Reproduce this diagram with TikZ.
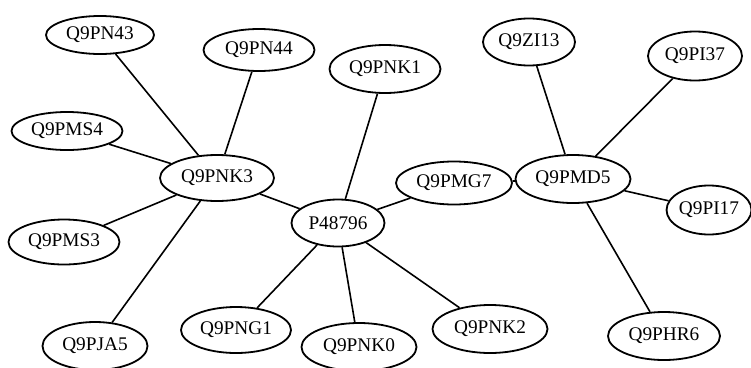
\documentclass[tikz,border=0pt]{standalone}
\usepackage{fontspec}
\setmainfont{Liberation Serif}
\usetikzlibrary{shapes.geometric}
\begin{document}
\begin{tikzpicture}[x=1pt,y=-1pt,
  prot/.style 2 args={draw, ellipse, line width=1.8pt, inner sep=0pt,
    minimum width=#1pt, minimum height=#2pt,
    font=\fontsize{19.3}{21}\selectfont},
  link/.style={line width=1.6pt}]
\useasboundingbox (0,0) rectangle (751,367);
% proteins
\node[prot={108}{38}] (n43)  at (100,35)  {Q9PN43};
\node[prot={111}{42}] (n44)  at (259,50)  {Q9PN44};
\node[prot={111}{38}] (ms4)  at (67,131)  {Q9PMS4};
\node[prot={114}{46}] (nk3)  at (217,178) {Q9PNK3};
\node[prot={111}{45}] (ms3)  at (64,242)  {Q9PMS3};
\node[prot={105}{48}] (ja5)  at (95,346)  {Q9PJA5};
\node[prot={111}{48}] (nk1)  at (385,69)  {Q9PNK1};
\node[prot={93}{47}]  (hub)  at (338,223) {P48796};
\node[prot={110}{46}] (ng1)  at (236,330) {Q9PNG1};
\node[prot={115}{48}] (nk0)  at (359,347) {Q9PNK0};
\node[prot={115}{48}] (nk2)  at (490,329) {Q9PNK2};
\node[prot={116}{43}] (mg7)  at (454,183) {Q9PMG7};
\node[prot={115}{48}] (md5)  at (573,179) {Q9PMD5};
\node[prot={92}{47}]  (zi13) at (529,42)  {Q9ZI13};
\node[prot={94}{49}]  (pi37) at (695,56)  {Q9PI37};
\node[prot={82}{49}]  (pi17) at (709,210) {Q9PI17};
\node[prot={112}{48}] (hr6)  at (664,336) {Q9PHR6};
% interactions
\foreach \a in {n43,n44,ms4,ms3,ja5,hub}
  \draw[link] (nk3) -- (\a);
\foreach \a in {nk1,ng1,nk0,nk2,mg7}
  \draw[link] (hub) -- (\a);
\foreach \a in {mg7,zi13,pi37,pi17,hr6}
  \draw[link] (md5) -- (\a);
\end{tikzpicture}
\end{document}
